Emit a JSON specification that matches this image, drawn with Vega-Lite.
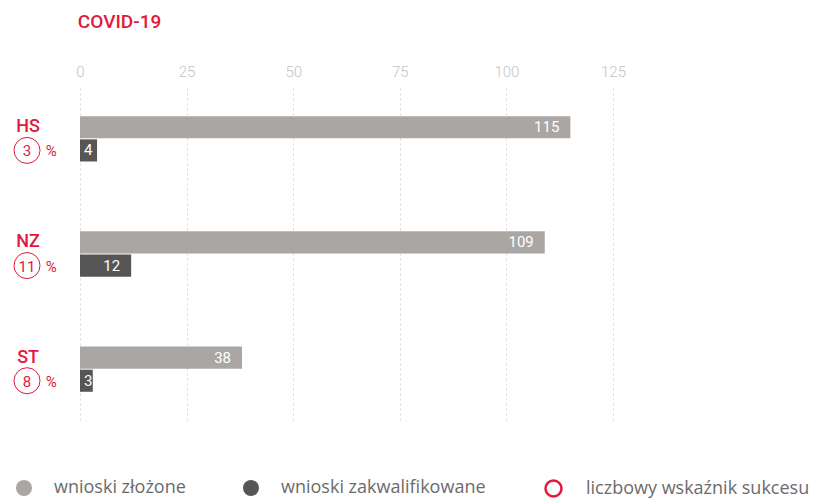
{
  "$schema": "https://vega.github.io/schema/vega-lite/v6.json",
  "padding": {"left": 5, "top": 13, "right": 5, "bottom": 5},
  "background": "white",
  "bounds": "flush",
  "config": {
    "font": "Roboto",
    "view": {"stroke": null},
    "concat": {"spacing": 20},
    "legend": {
      "orient": "bottom",
      "direction": "horizontal",
      "title": null,
      "symbolType": "circle",
      "symbolSize": 256,
      "labelFontSize": 18,
      "labelFont": "Open Sans",
      "labelFontWeight": 400,
      "labelColor": "#6b6b6b",
      "labelOffset": 21,
      "labelLimit": 400,
      "columnPadding": 56,
      "padding": 10,
      "offset": 49
    }
  },
  "datasets": {
    "wnioski": [
      {"kraj": "HS", "seria": "wnioski złożone", "liczba": 115},
      {"kraj": "HS", "seria": "wnioski zakwalifikowane", "liczba": 4},
      {"kraj": "NZ", "seria": "wnioski złożone", "liczba": 109},
      {"kraj": "NZ", "seria": "wnioski zakwalifikowane", "liczba": 12},
      {"kraj": "ST", "seria": "wnioski złożone", "liczba": 38},
      {"kraj": "ST", "seria": "wnioski zakwalifikowane", "liczba": 3}
    ],
    "sukces": [
      {"kraj": "HS", "wskaznik": 3},
      {"kraj": "NZ", "wskaznik": 11},
      {"kraj": "ST", "wskaznik": 8}
    ]
  },
  "resolve": {"scale": {"x": "independent"}},
  "hconcat": [
    {
      "width": 55,
      "height": 332,
      "data": {"name": "sukces"},
      "encoding": {
        "y": {"field": "kraj", "type": "nominal", "axis": null, "scale": {"type": "band", "paddingInner": 0.607, "paddingOuter": 0.245}},
        "x": {"datum": 0.4, "type": "quantitative", "axis": null, "scale": {"domain": [0, 1]}}
      },
      "layer": [
        {
          "mark": {"type": "text", "fontSize": 18, "fontWeight": 500, "color": "#e2183c"},
          "encoding": {
            "yOffset": {"datum": "wnioski złożone", "type": "nominal", "scale": {"domain": ["wnioski złożone", "wnioski zakwalifikowane"], "paddingInner": 0.045}},
            "x": {"datum": 0.42, "type": "quantitative"},
            "text": {"field": "kraj"}
          }
        },
        {
          "mark": {"type": "point", "filled": false, "size": 676, "strokeWidth": 1, "opacity": 1},
          "encoding": {
            "yOffset": {"datum": "wnioski zakwalifikowane", "type": "nominal"},
            "stroke": {
              "datum": "liczbowy wskaźnik sukcesu",
              "type": "nominal",
              "scale": {"range": ["#e2183c"]},
              "legend": {"orient": "none", "legendX": 529, "legendY": 381, "labelOffset": 23, "symbolStrokeWidth": 2.5, "symbolType": "circle", "symbolSize": 256}
            }
          }
        },
        {
          "mark": {"type": "text", "fontSize": 15, "color": "#e2183c", "dy": 1},
          "encoding": {
            "yOffset": {"datum": "wnioski zakwalifikowane", "type": "nominal"},
            "text": {"field": "wskaznik"}
          }
        },
        {
          "mark": {"type": "text", "fontSize": 15, "color": "#e2183c", "text": "%", "dy": 1},
          "encoding": {
            "yOffset": {"datum": "wnioski zakwalifikowane", "type": "nominal"},
            "x": {"datum": 0.84, "type": "quantitative"}
          }
        }
      ]
    },
    {
      "width": 533,
      "height": 332,
      "title": {"text": "COVID-19", "anchor": "start", "color": "#e2183c", "fontSize": 19, "fontWeight": 500, "offset": 32, "font": "Roboto", "dx": 2},
      "data": {"name": "wnioski"},
      "encoding": {
        "y": {"field": "kraj", "type": "nominal", "axis": null, "scale": {"type": "band", "paddingInner": 0.607, "paddingOuter": 0.245}},
        "yOffset": {"field": "seria", "type": "nominal", "scale": {"domain": ["wnioski złożone", "wnioski zakwalifikowane"], "paddingInner": 0.045}},
        "x": {
          "field": "liczba",
          "type": "quantitative",
          "scale": {"domain": [0, 125], "nice": false},
          "axis": {
            "orient": "top",
            "title": null,
            "values": [0, 25, 50, 75, 100, 125],
            "domain": false,
            "ticks": false,
            "labelFlush": false,
            "labelColor": "#c4c4c4",
            "labelFontSize": 15,
            "labelFontWeight": 300,
            "labelPadding": 9,
            "grid": true,
            "gridColor": "#d9d9d9",
            "gridDash": [2, 3],
            "gridWidth": 1
          }
        }
      },
      "layer": [
        {
          "mark": {"type": "bar"},
          "encoding": {
            "color": {
              "field": "seria",
              "type": "nominal",
              "scale": {
                "domain": ["wnioski złożone", "wnioski zakwalifikowane"],
                "range": ["#aaa6a3", "#565656"]
              }
            }
          }
        },
        {
          "transform": [{"filter": "datum.liczba >= 10"}],
          "mark": {"type": "text", "align": "right", "dx": -11, "color": "white", "fontSize": 15},
          "encoding": {"text": {"field": "liczba", "type": "quantitative"}}
        },
        {
          "transform": [{"filter": "datum.liczba < 10"}],
          "mark": {"type": "text", "align": "left", "dx": 4, "color": "white", "fontSize": 15},
          "encoding": {
            "x": {"datum": 0, "type": "quantitative"},
            "text": {"field": "liczba", "type": "quantitative"}
          }
        }
      ]
    }
  ]
}
